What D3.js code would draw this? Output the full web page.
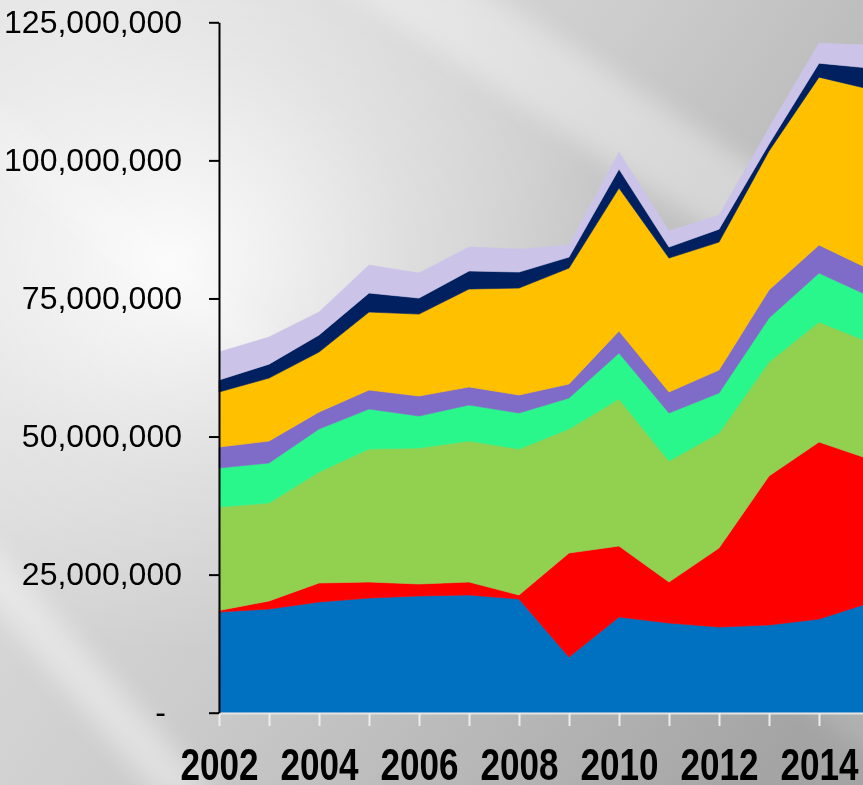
<!DOCTYPE html>
<html>
<head>
<meta charset="utf-8">
<script src="https://cdn.jsdelivr.net/npm/d3@7/dist/d3.min.js"></script>
<style>
  html, body { margin: 0; padding: 0; overflow: hidden; background: #cfcfcf; }
  svg { display: block; }
</style>
</head>
<body>
<svg id="chart" width="863" height="785"></svg>
<script>
// Years on the horizontal axis (one stacked point per year)
const years = [2002, 2003, 2004, 2005, 2006, 2007, 2008, 2009, 2010, 2011, 2012, 2013, 2014, 2015];

// Stacked series, bottom to top, values in millions
const blueValues     = [18.23, 18.77, 20.04, 20.76, 21.13, 21.31, 20.58, 10.08, 17.32, 16.24, 15.51, 15.88, 16.96, 19.86];
const redValues      = [0.27, 1.45, 3.44, 2.90, 2.17, 2.35, 0.72, 18.83, 12.85, 7.42, 14.30, 26.97, 32.04, 26.07];
const greenValues    = [18.74, 17.74, 20.09, 24.08, 24.62, 25.53, 26.43, 22.45, 26.61, 21.90, 20.82, 20.64, 21.72, 21.18];
const springValues   = [7.06, 7.24, 7.78, 7.24, 5.79, 6.52, 6.52, 5.61, 8.33, 8.69, 7.24, 7.97, 8.87, 8.33];
const purpleValues   = [3.80, 3.98, 3.08, 3.44, 3.62, 3.26, 3.26, 2.53, 3.98, 3.80, 4.16, 5.07, 5.07, 4.89];
const goldValues     = [9.96, 11.40, 10.86, 14.12, 14.84, 17.74, 19.37, 21.00, 25.89, 24.26, 23.17, 25.16, 30.41, 32.59];
const navyValues     = [2.17, 2.53, 3.08, 3.44, 2.90, 3.26, 2.90, 1.99, 3.44, 1.99, 2.35, 1.27, 2.53, 3.80];
const lavenderValues = [5.07, 4.89, 4.16, 5.07, 4.53, 4.34, 4.16, 2.17, 3.08, 2.90, 2.53, 2.90, 3.62, 4.16];

const seriesKeys   = ["blue", "red", "green", "spring", "purple", "gold", "navy", "lavender"];
const seriesValues = [blueValues, redValues, greenValues, springValues, purpleValues, goldValues, navyValues, lavenderValues];
const seriesColors = ["#0070C0", "#FF0000", "#92D050", "#2AF78B", "#7F6BC8", "#FFC000", "#002060", "#CBC4E8"];

const yTickValues = [0, 25000000, 50000000, 75000000, 100000000, 125000000];
const xLabelYears = [2002, 2004, 2006, 2008, 2010, 2012, 2014];

const UNIT = 1e6;

const svg = d3.select("#chart");
const W = 863, H = 785;

// ---- background: soft grey sheen with diagonal light streaks ----
const defs = svg.append("defs");
const base = defs.append("linearGradient").attr("id", "bgBase")
  .attr("x1", "0").attr("y1", "0.2").attr("x2", "1").attr("y2", "0.8");
base.append("stop").attr("offset", "0%").attr("stop-color", "#e2e2e2");
base.append("stop").attr("offset", "45%").attr("stop-color", "#cdcdcd");
base.append("stop").attr("offset", "100%").attr("stop-color", "#a4a4a4");

const glow = defs.append("radialGradient").attr("id", "bgGlow")
  .attr("cx", "0.2").attr("cy", "0.33").attr("r", "0.5");
glow.append("stop").attr("offset", "0%").attr("stop-color", "#ffffff").attr("stop-opacity", 0.9);
glow.append("stop").attr("offset", "55%").attr("stop-color", "#ffffff").attr("stop-opacity", 0.3);
glow.append("stop").attr("offset", "100%").attr("stop-color", "#ffffff").attr("stop-opacity", 0);

const blur = defs.append("filter").attr("id", "soft")
  .attr("x", "-20%").attr("y", "-20%").attr("width", "140%").attr("height", "140%");
blur.append("feGaussianBlur").attr("stdDeviation", 12);

svg.append("rect").attr("width", W).attr("height", H).attr("fill", "url(#bgBase)");
svg.append("rect").attr("width", W).attr("height", H).attr("fill", "url(#bgGlow)");

const streaks = svg.append("g").attr("filter", "url(#soft)");
[
  {pts: [[330, -20], [470, -20], [880, 250], [880, 340]], o: 0.35},
  {pts: [[-20, 530], [-20, 590], [160, 800], [220, 800]], o: 0.4},
  {pts: [[-20, 90], [-20, 150], [420, 520], [450, 480]], o: 0.2},
  {pts: [[600, 560], [640, 520], [880, 700], [880, 760]], o: 0.15}
].forEach(s => {
  streaks.append("polygon")
    .attr("points", s.pts.map(p => p.join(",")).join(" "))
    .attr("fill", "#ffffff").attr("opacity", s.o);
});

// ---- scales ----
const x = d3.scaleLinear().domain([2002, 2015]).range([219, 869]);
const y = d3.scaleLinear().domain([0, 125000000]).range([712.7, 22.3]);

// ---- stacked areas ----
const rows = years.map((yr, i) => {
  const row = { year: yr };
  seriesKeys.forEach((k, j) => { row[k] = seriesValues[j][i] * UNIT; });
  return row;
});

const stacked = d3.stack().keys(seriesKeys)(rows);

const area = d3.area()
  .x(d => x(d.data.year))
  .y0(d => y(d[0]))
  .y1(d => y(d[1]));

svg.append("g").selectAll("path")
  .data(stacked)
  .join("path")
  .attr("d", area)
  .attr("fill", (d, i) => seriesColors[i])
  .attr("stroke", (d, i) => seriesColors[i])
  .attr("stroke-width", 0.6);

// ---- x axis (light line, light ticks, bold condensed year labels) ----
const xAxis = d3.axisBottom(x)
  .tickValues(years)
  .tickSize(13)
  .tickSizeOuter(0)
  .tickFormat(d => xLabelYears.includes(d) ? String(d) : "");

const gx = svg.append("g").attr("transform", "translate(0,713)").call(xAxis);
gx.select(".domain").attr("stroke", "#e4e4e4").attr("stroke-width", 2);
gx.selectAll(".tick line").attr("stroke", "#ececec").attr("stroke-width", 2);
gx.selectAll(".tick text")
  .filter(d => xLabelYears.includes(d))
  .attr("y", 67).attr("dy", 0)
  .attr("fill", "#000")
  .attr("textLength", 78)
  .attr("lengthAdjust", "spacingAndGlyphs")
  .style("font-family", "'Liberation Sans', Arial, sans-serif")
  .style("font-weight", "bold")
  .style("font-size", "44px");

// ---- y axis ----
const yAxis = d3.axisLeft(y)
  .tickValues(yTickValues)
  .tickSize(10)
  .tickSizeOuter(0)
  .tickPadding(27)
  .tickFormat(d => d === 0 ? "-" : d3.format(",")(d));

const gy = svg.append("g").attr("transform", "translate(219,0)").call(yAxis);
gy.select(".domain").attr("stroke", "#000").attr("stroke-width", 2);
gy.selectAll(".tick line").attr("stroke", "#000").attr("stroke-width", 2);
gy.selectAll(".tick text")
  .attr("fill", "#000")
  .style("font-family", "'Liberation Sans', Arial, sans-serif")
  .style("font-size", "32px");
gy.selectAll(".tick text").filter(d => d === 0).attr("dx", -16);
</script>
</body>
</html>
